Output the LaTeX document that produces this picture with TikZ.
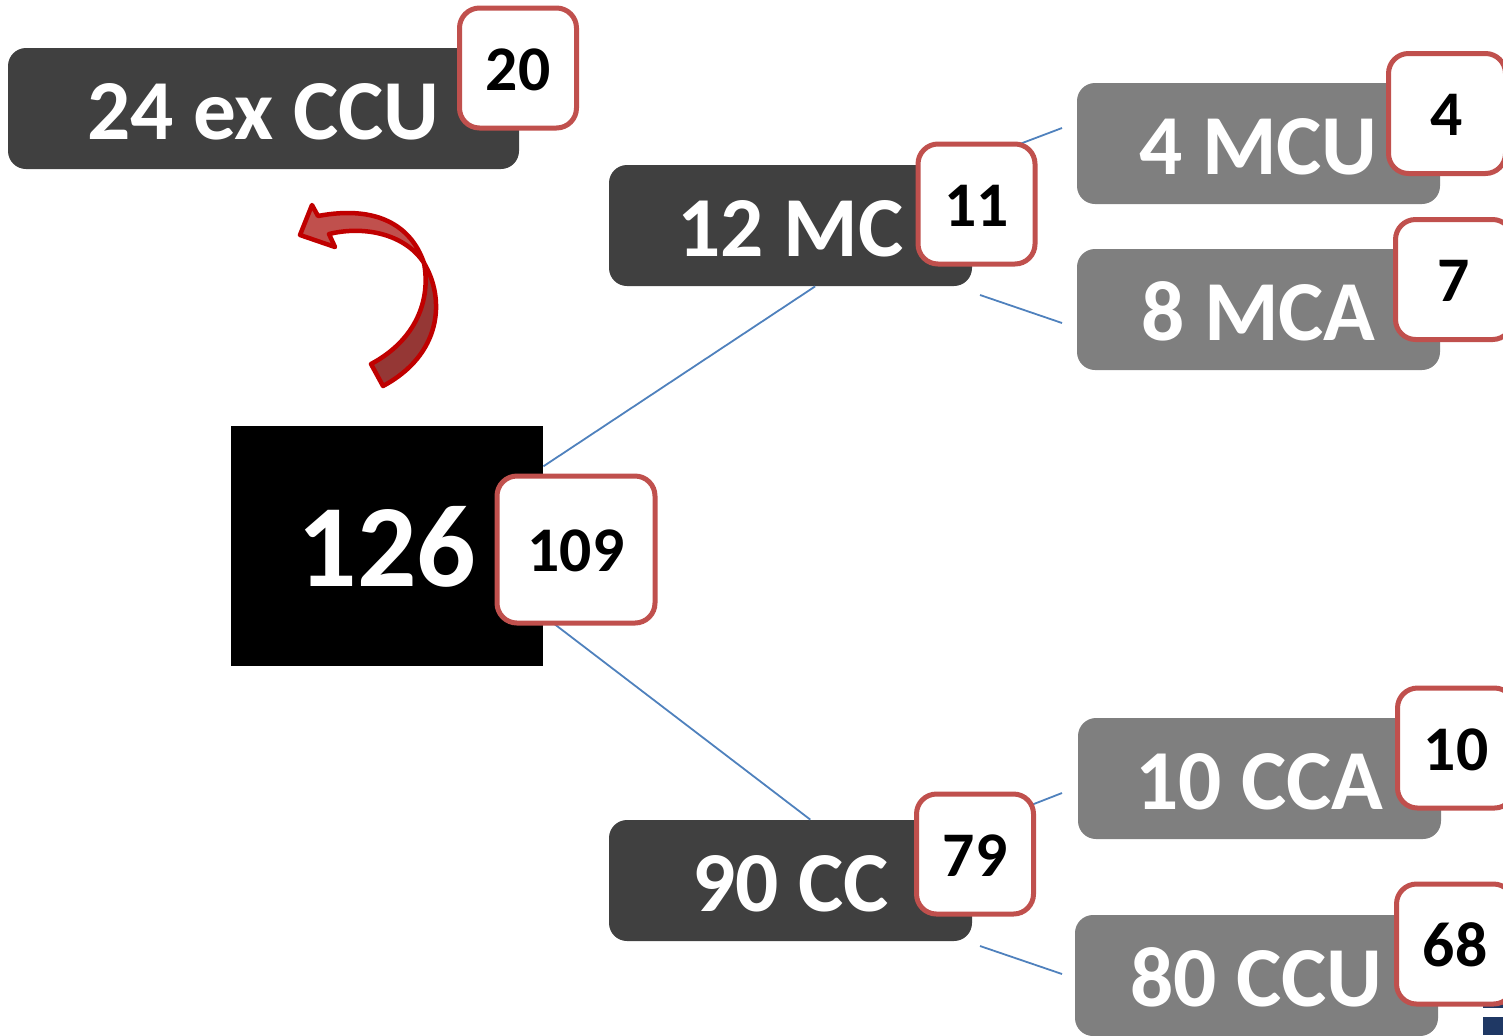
\documentclass[tikz,border=0pt]{standalone}
\usepackage{fontspec}
\setmainfont{Carlito}
\usepackage{tikz}
\usetikzlibrary{calc}
\definecolor{darkbox}{HTML}{404040}
\definecolor{greybox}{HTML}{7F7F7F}
\definecolor{badgeline}{HTML}{C0504D}
\definecolor{linkblue}{HTML}{4F81BD}
\definecolor{arrowline}{HTML}{C00000}
\definecolor{arrowtop}{HTML}{C0504D}
\definecolor{arrowlow}{HTML}{953735}
\definecolor{cornerblue}{HTML}{1F3864}
\tikzset{
  darknode/.style={fill=darkbox,text=white,rounded corners=9pt,inner sep=0pt,minimum width=181.5pt,minimum height=60.5pt,text height=30.5pt,text depth=0pt,font=\fontsize{42.7}{42.7}\bfseries},
  greynode/.style={darknode,fill=greybox},
  badge/.style={draw=badgeline,line width=2.5pt,fill=white,text=black,rounded corners=10pt,inner sep=0pt,minimum width=58.5pt,minimum height=60pt,text height=22pt,text depth=0pt,font=\fontsize{31.8}{31.8}\bfseries},
  link/.style={linkblue,line width=0.9pt},
  arrowpart/.style={draw=arrowline,line width=2.25pt,line join=round}
}
\begin{document}
\begin{tikzpicture}[x=0.5pt,y=-0.5pt]
    \useasboundingbox(0,0)rectangle(1503,1035);
    \fill[cornerblue](1483,1017)rectangle(1503,1035);
    \fill[cornerblue](1483,1003)rectangle(1503,1008);

    \node[fill=black,text=white,inner sep=0pt,minimum width=156pt,minimum height=120pt,text height=40.5pt,text depth=0pt,font=\fontsize{58.7}{58.7}\bfseries](n126)at(387,546){126};
    \node[darknode,minimum width=255.5pt](nexccu)at(263.5,108.5){24 ex CCU};
    \node[darknode](nmc)at(790.5,225.5){12 MC};
    \node[darknode](ncc)at(790.5,880.5){90 CC};
    \node[greynode](nmcu)at(1258.5,143.5){4 MCU};
    \node[greynode](nmca)at(1258.5,309.5){8 MCA};
    \node[greynode](ncca)at(1259.5,778.5){10 CCA};
    \node[greynode](nccu)at(1256.5,975.5){80 CCU};

    \coordinate(mcustart)at(980,159);
    \coordinate(mcuend)at(1062,128);
    \coordinate(mcastart)at(980,295);
    \coordinate(mcaend)at(1062,323);
    \coordinate(ccastart)at(980,825);
    \coordinate(ccaend)at(1062,793);
    \coordinate(ccustart)at(980,946);
    \coordinate(ccuend)at(1062,974);
    \draw[link](n126.27.6)--(nmc.-68);
    \draw[link](n126.-24.2)--(ncc.72);
    \draw[link](mcustart)--(mcuend);
    \draw[link](mcastart)--(mcaend);
    \draw[link](ccastart)--(ccaend);
    \draw[link](ccustart)--(ccuend);

    \node[badge](bexccu)at(518,68){20};
    \node[badge](bmc)at(976.5,204){11};
    \node[badge,minimum width=79pt,minimum height=73.5pt](b126)at(576,549.5){109};
    \node[badge](bcc)at(975,854){79};
    \node[badge](bmcu)at(1447,113.5){4};
    \node[badge](bmca)at(1454,279.5){7};
    \node[badge](bcca)at(1456,748){10};
    \node[badge](bccu)at(1455,944){68};

    \draw[arrowpart,fill=arrowtop](424,263).. controls (411,225) and (376,205) .. (318,216)--(312,205)--(300,235)--(335,247)--(329,234).. controls (366,225) and (406,235) .. (424,263)--cycle;
    \draw[arrowpart,fill=arrowlow](424,263).. controls (446,300) and (441,355) .. (383,386)--(371,364).. controls (416,340) and (431,300) .. (424,263)--cycle;
  \end{tikzpicture}
\end{document}
